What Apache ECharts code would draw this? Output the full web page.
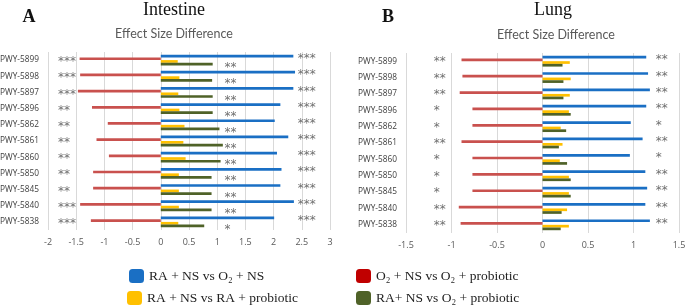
<!DOCTYPE html>
<html>
<head>
<meta charset="utf-8">
<script src="https://cdn.jsdelivr.net/npm/echarts@6/dist/echarts.min.js"></script>
<style>
html, body { margin: 0; padding: 0; background: #fff; }
#main { width: 685px; height: 308px; }
</style>
</head>
<body>
<div id="main"></div>
<script>
// pathways (top to bottom)
var categories = ['PWY-5899', 'PWY-5898', 'PWY-5897', 'PWY-5896', 'PWY-5862', 'PWY-5861', 'PWY-5860', 'PWY-5850', 'PWY-5845', 'PWY-5840', 'PWY-5838'];

// A - Intestine
var intBlue = [2.35, 2.38, 2.35, 2.12, 2.02, 2.26, 2.06, 2.14, 2.12, 2.36, 2.01];
var intRed = [-1.44, -1.43, -1.47, -1.22, -0.94, -1.14, -0.92, -1.20, -1.20, -1.43, -1.24];
var intYellow = [0.30, 0.33, 0.31, 0.33, 0.42, 0.40, 0.44, 0.32, 0.32, 0.32, 0.31];
var intGreen = [0.92, 0.91, 0.92, 0.92, 1.04, 1.10, 1.06, 0.90, 0.90, 0.90, 0.77];
var intRedStars = ['***', '***', '***', '**', '**', '**', '**', '**', '**', '***', '***'];
var intBlueStars = ['***', '***', '***', '***', '***', '***', '***', '***', '***', '***', '***'];
var intGreenStars = ['**', '**', '**', '**', '**', '**', '**', '**', '**', '**', '*'];

// B - Lung
var lungBlue = [1.14, 1.16, 1.18, 1.14, 0.97, 1.10, 0.96, 1.13, 1.15, 1.13, 1.18];
var lungRed = [-0.89, -0.88, -0.91, -0.77, -0.77, -0.89, -0.77, -0.77, -0.77, -0.92, -0.90];
var lungYellow = [0.30, 0.31, 0.30, 0.29, 0.20, 0.22, 0.19, 0.29, 0.29, 0.27, 0.29];
var lungGreen = [0.22, 0.23, 0.23, 0.31, 0.26, 0.18, 0.27, 0.31, 0.31, 0.21, 0.20];
var lungRedStars = ['**', '**', '**', '*', '*', '**', '*', '*', '*', '**', '**'];
var lungBlueStars = ['**', '**', '**', '**', '*', '**', '*', '**', '**', '**', '**'];

var names = ['RA + NS vs O\u2082 + NS', 'O\u2082 + NS vs O\u2082 + probiotic', 'RA + NS vs RA + probiotic', 'RA+ NS vs O\u2082 + probiotic'];
var colors = ['#1a6fc4', '#c9514e', '#ffc000', '#4f6228'];
var legendColors = ['#1a6fc4', '#c00000', '#ffc000', '#4f6228'];

var chart = echarts.init(document.getElementById('main'));

function bars(idx, vals, k) {
	return {
		type: 'bar', name: names[k], xAxisIndex: idx, yAxisIndex: idx,
		data: vals, barWidth: 2.7, barGap: '0%',
		itemStyle: { color: colors[k] }, silent: true
	};
}
// significance marks, placed at a fixed x on each row
function stars(idx, xv, marks, dy) {
	return {
		type: 'scatter', xAxisIndex: idx, yAxisIndex: idx, z: 5, silent: true,
		symbolSize: 1, itemStyle: { color: 'transparent' },
		data: marks.map(function (m, i) { return { value: [xv, i], label: { formatter: m } }; }),
		label: {
			show: true, position: 'right', distance: 0, offset: [0, dy],
			fontFamily: 'DejaVu Sans', fontSize: 12, color: '#4a4a4a'
		}
	};
}
function xAx(idx, mn, mx) {
	return {
		type: 'value', gridIndex: idx, min: mn, max: mx, interval: 0.5,
		axisLine: { show: false }, axisTick: { show: false },
		splitLine: { lineStyle: { color: '#d9d9d9' } },
		axisLabel: { fontFamily: 'Open Sans', fontSize: 9, color: '#595959', margin: 8 }
	};
}
function yAx(idx) {
	return {
		type: 'category', gridIndex: idx, data: categories, inverse: true,
		axisLine: { show: false }, axisTick: { show: false },
		axisLabel: { fontFamily: 'Open Sans', fontSize: 8.3, color: '#404040', margin: 9 }
	};
}
function leg(k, x, y) {
	return {
		left: x, top: y, padding: 0, itemWidth: 15, itemHeight: 14, icon: 'roundRect', selectedMode: false,
		data: [{ name: names[k], itemStyle: { color: legendColors[k] } }],
		textStyle: { fontFamily: 'Liberation Serif', fontSize: 13.5, color: '#222' }
	};
}

var titleFont = { fontFamily: 'Liberation Serif', fontSize: 18, fontWeight: 'normal', color: '#111' };
var subFont = { fontFamily: 'Lato', fontSize: 12.5, fontWeight: 'normal', color: '#595959' };
var letterFont = { fontFamily: 'Liberation Serif', fontSize: 18, fontWeight: 'bold', color: '#111' };

chart.setOption({
	animation: false,
	title: [
		{ text: 'A', left: 24, top: 3, textAlign: 'center', textStyle: letterFont },
		{ text: 'Intestine', left: 169, top: -4, textAlign: 'center', textStyle: titleFont },
		{ text: 'Effect Size Difference', left: 169, top: 22, textAlign: 'center', textStyle: subFont },
		{ text: 'B', left: 383, top: 3, textAlign: 'center', textStyle: letterFont },
		{ text: 'Lung', left: 548, top: -4, textAlign: 'center', textStyle: titleFont },
		{ text: 'Effect Size Difference', left: 551, top: 23, textAlign: 'center', textStyle: subFont }
	],
	legend: [leg(0, 129, 269), leg(1, 356, 269), leg(2, 127, 291), leg(3, 356, 291)],
	grid: [
		{ left: 48, width: 282, top: 52, height: 178, outerBoundsMode: 'none' },
		{ left: 406, width: 273, top: 53, height: 180, outerBoundsMode: 'none' }
	],
	xAxis: [xAx(0, -2, 3), xAx(1, -1.5, 1.5)],
	yAxis: [yAx(0), yAx(1)],
	series: [
		bars(0, intBlue, 0), bars(0, intRed, 1), bars(0, intYellow, 2), bars(0, intGreen, 3),
		stars(0, -1.83, intRedStars, 2),
		stars(0, 2.42, intBlueStars, -1),
		stars(0, 1.12, intGreenStars, 8),
		bars(1, lungBlue, 0), bars(1, lungRed, 1), bars(1, lungYellow, 2), bars(1, lungGreen, 3),
		stars(1, -1.2, lungRedStars, 1),
		stars(1, 1.24, lungBlueStars, -1)
	]
});
</script>
</body>
</html>
